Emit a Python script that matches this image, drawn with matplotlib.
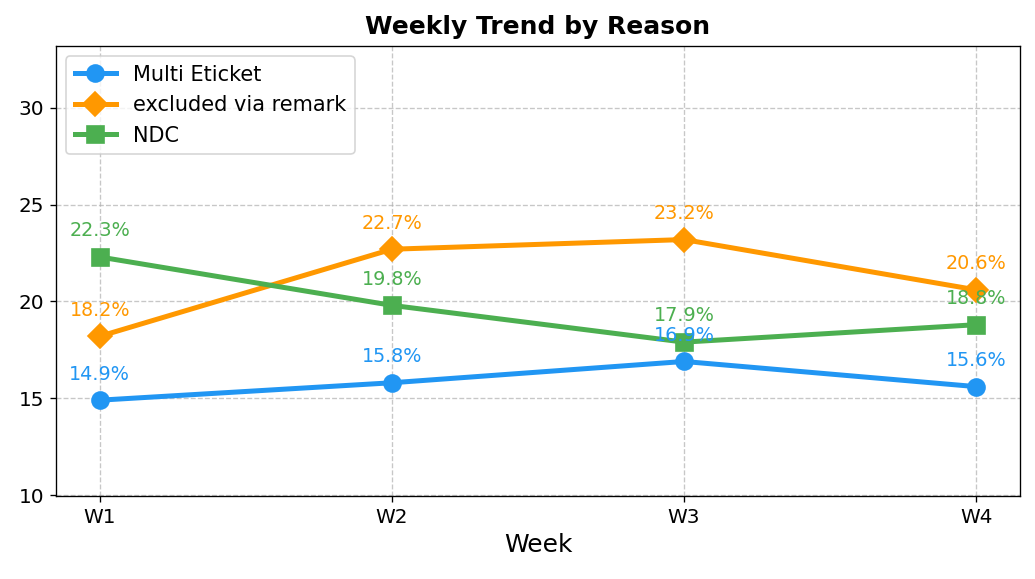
import matplotlib
matplotlib.use("Agg")
import matplotlib.pyplot as plt

weeks = ["W1", "W2", "W3", "W4"]
multi_eticket = [14.9, 15.8, 16.9, 15.6]
excluded_remark = [18.2, 22.7, 23.2, 20.6]
ndc = [22.3, 19.8, 17.9, 18.8]

series = [
    ("Multi Eticket", multi_eticket, "#2196F3", "o"),
    ("excluded via remark", excluded_remark, "#FF9800", "D"),
    ("NDC", ndc, "#4CAF50", "s"),
]

fig = plt.figure(figsize=(8.625, 4.825), dpi=120)
ax = fig.add_axes([0.054, 0.1434, 0.9315, 0.7771])

x = list(range(len(weeks)))
for name, vals, color, marker in series:
    ax.plot(x, vals, color=color, marker=marker, linewidth=3, markersize=10.2, label=name)
    for xi, v in zip(x, vals):
        ax.annotate(f"{v}%", (xi, v), textcoords="offset points", xytext=(0, 10),
                    ha="center", va="bottom", fontsize=11.5, color=color)

ax.set_xticks(x)
ax.set_xticklabels(weeks, fontsize=12)
ax.set_yticks([10, 15, 20, 25, 30])
ax.tick_params(axis="y", labelsize=12)
ax.set_xlim(-0.15, 3.15)
ax.set_ylim(9.95, 33.2)
ax.set_xlabel("Week", fontsize=15)
ax.set_title("Weekly Trend by Reason", fontsize=15, fontweight="bold", pad=7)
ax.grid(True, linestyle="--", alpha=0.7)
ax.legend(loc="upper left", fontsize=12.5)

fig.savefig("out.png", dpi=120)
